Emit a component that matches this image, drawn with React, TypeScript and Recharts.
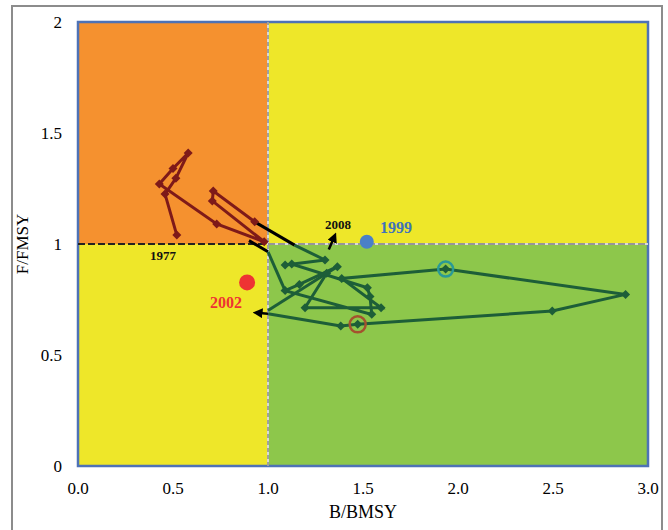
import {
  ComposedChart,
  Scatter,
  XAxis,
  YAxis,
  ReferenceArea,
  ReferenceLine,
  ReferenceDot,
} from "recharts";

type Pt = { x: number; y: number };

const xTicks = [0, 0.5, 1, 1.5, 2, 2.5, 3];
const yTicks = [0, 0.5, 1, 1.5, 2];

// early trajectory (F above FMSY)
const redPath: Pt[] = [
  { x: 0.52, y: 1.04 },
  { x: 0.458, y: 1.225 },
  { x: 0.515, y: 1.296 },
  { x: 0.58, y: 1.41 },
  { x: 0.5, y: 1.34 },
  { x: 0.428, y: 1.27 },
  { x: 0.73, y: 1.09 },
  { x: 0.98, y: 1.01 },
  { x: 0.707, y: 1.194 },
  { x: 0.712, y: 1.239 },
  { x: 0.93, y: 1.1 },
];

// later trajectory (green quadrant)
const greenPath: Pt[] = [
  { x: 1.3, y: 0.928 },
  { x: 1.09, y: 0.905 },
  { x: 1.125, y: 0.91 },
  { x: 1.523, y: 0.803 },
  { x: 1.537, y: 0.763 },
  { x: 1.546, y: 0.683 },
  { x: 1.09, y: 0.79 },
  { x: 1.165, y: 0.818 },
  { x: 1.365, y: 0.898 },
  { x: 1.309, y: 0.868 },
  { x: 1.195, y: 0.713 },
  { x: 1.595, y: 0.713 },
  { x: 1.388, y: 0.845 },
  { x: 1.935, y: 0.887 },
  { x: 2.882, y: 0.773 },
  { x: 2.496, y: 0.698 },
  { x: 1.472, y: 0.638 },
  { x: 1.383, y: 0.631 },
];

// connecting pieces
const blackLinkA: Pt[] = [
  { x: 0.93, y: 1.1 },
  { x: 1.14, y: 0.995 },
];
const greenLinkA: Pt[] = [
  { x: 1.14, y: 0.995 },
  { x: 1.3, y: 0.928 },
];
const blackLinkB: Pt[] = [
  { x: 0.9, y: 1.015 },
  { x: 1.0, y: 0.965 },
];
const greenLinkB: Pt[] = [
  { x: 1.0, y: 0.965 },
  { x: 1.09, y: 0.79 },
];
const greenLinkC: Pt[] = [
  { x: 1.0, y: 0.7 },
  { x: 1.309, y: 0.868 },
];
const greenEnd: Pt[] = [
  { x: 1.383, y: 0.631 },
  { x: 1.0, y: 0.686 },
];
const arrowEnd: Pt[] = [
  { x: 1.0, y: 0.686 },
  { x: 0.94, y: 0.69 },
];
const arrow2008: Pt[] = [
  { x: 1.32, y: 0.975 },
  { x: 1.35, y: 1.035 },
];

const point1999 = { x: 1.52, y: 1.01 };
const point2002 = { x: 0.89, y: 0.827 };
const ringTeal = { x: 1.935, y: 0.887 };
const ringBrown = { x: 1.472, y: 0.638 };

const yearLabels = [
  { x: 0.447, y: 0.95, text: "1977", color: "#111", size: 13 },
  { x: 1.368, y: 1.09, text: "2008", color: "#111", size: 13 },
  { x: 1.674, y: 1.077, text: "1999", color: "#3F72BA", size: 16 },
  { x: 0.779, y: 0.739, text: "2002", color: "#EE3333", size: 16 },
];

const serif = "'Liberation Serif', 'Times New Roman', serif";

const diamond = (color: string) => (props: any) => {
  const { cx, cy } = props;
  const h = 4.5;
  return (
    <polygon
      points={`${cx},${cy - h} ${cx + h},${cy} ${cx},${cy + h} ${cx - h},${cy}`}
      fill={color}
    />
  );
};

const noMark = () => <g />;

export default function App() {
  return (
    <div
      style={{
        position: "fixed",
        left: 0,
        top: 0,
        width: 668,
        height: 530,
        background: "#fff",
        overflow: "hidden",
      }}
    >
      <div
        style={{
          position: "absolute",
          left: 11,
          top: 5,
          width: 648,
          height: 530,
          border: "2px solid #8c8c8c",
          borderBottom: "none",
        }}
      />
      <div style={{ position: "absolute", left: 0, top: 0 }}>
        <ComposedChart
          width={668}
          height={530}
          margin={{ top: 22, right: 20, bottom: 0, left: 0 }}
        >
          <defs>
            <marker
              id="arrowHead"
              viewBox="0 0 10 10"
              refX="6"
              refY="5"
              markerWidth="4"
              markerHeight="4"
              orient="auto"
            >
              <path d="M0,0 L10,5 L0,10 z" fill="#000" />
            </marker>
          </defs>
          <XAxis
            type="number"
            dataKey="x"
            domain={[0, 3]}
            ticks={xTicks}
            tickFormatter={(v: number) => v.toFixed(1)}
            axisLine={false}
            tickLine={false}
            tickSize={0}
            tickMargin={16}
            height={64}
            tick={{ fill: "#000", fontSize: 17, fontFamily: serif }}
            allowDataOverflow
            label={{
              content: () => (
                <text
                  x={363}
                  y={518}
                  textAnchor="middle"
                  fontSize={18}
                  fontFamily={serif}
                  fill="#000"
                >
                  B/BMSY
                </text>
              ),
            }}
          />
          <YAxis
            type="number"
            dataKey="y"
            domain={[0, 2]}
            ticks={yTicks}
            axisLine={false}
            tickLine={false}
            tickSize={0}
            tickMargin={16}
            width={78}
            tick={{ fill: "#000", fontSize: 17, fontFamily: serif }}
            allowDataOverflow
            label={{
              content: () => (
                <text
                  x={28}
                  y={244}
                  transform="rotate(-90 28 244)"
                  textAnchor="middle"
                  fontSize={17}
                  fontFamily={serif}
                  fill="#000"
                >
                  F/FMSY
                </text>
              ),
            }}
          />
          <ReferenceArea x1={0} x2={1} y1={1} y2={2} fill="#F5912F" fillOpacity={1} stroke="none" />
          <ReferenceArea x1={1} x2={3} y1={1} y2={2} fill="#EEE729" fillOpacity={1} stroke="none" />
          <ReferenceArea x1={0} x2={1} y1={0} y2={1} fill="#EEE729" fillOpacity={1} stroke="none" />
          <ReferenceArea x1={1} x2={3} y1={0} y2={1} fill="#8DC74B" fillOpacity={1} stroke="none" />
          <ReferenceArea
            x1={0}
            x2={3}
            y1={0}
            y2={2}
            fill="none"
            stroke="#4E72B6"
            strokeWidth={2.5}
          />
          <ReferenceLine x={1} stroke="#d9d9d9" strokeWidth={2} />
          <ReferenceLine x={1} stroke="#666" strokeWidth={1} strokeDasharray="4 3" />
          <ReferenceLine
            segment={[
              { x: 0, y: 1 },
              { x: 1, y: 1 },
            ]}
            stroke="#222"
            strokeWidth={2}
            strokeDasharray="7 3"
          />
          <ReferenceLine
            segment={[
              { x: 1, y: 1 },
              { x: 3, y: 1 },
            ]}
            stroke="#d9d9d9"
            strokeWidth={2}
          />
          <ReferenceLine
            segment={[
              { x: 1, y: 1 },
              { x: 3, y: 1 },
            ]}
            stroke="#555"
            strokeWidth={1.2}
            strokeDasharray="7 3"
          />

          <Scatter
            data={blackLinkA}
            fill="#000"
            line={{ stroke: "#000", strokeWidth: 3 }}
            shape={noMark}
            isAnimationActive={false}
          />
          <Scatter
            data={blackLinkB}
            fill="#000"
            line={{ stroke: "#000", strokeWidth: 3 }}
            shape={noMark}
            isAnimationActive={false}
          />
          <Scatter
            data={greenLinkA}
            fill="#1D5E38"
            line={{ stroke: "#1D5E38", strokeWidth: 3 }}
            shape={noMark}
            isAnimationActive={false}
          />
          <Scatter
            data={greenLinkB}
            fill="#1D5E38"
            line={{ stroke: "#1D5E38", strokeWidth: 3 }}
            shape={noMark}
            isAnimationActive={false}
          />
          <Scatter
            data={greenLinkC}
            fill="#1D5E38"
            line={{ stroke: "#1D5E38", strokeWidth: 3 }}
            shape={noMark}
            isAnimationActive={false}
          />
          <Scatter
            data={greenEnd}
            fill="#1D5E38"
            line={{ stroke: "#1D5E38", strokeWidth: 3 }}
            shape={noMark}
            isAnimationActive={false}
          />
          <Scatter
            data={redPath}
            fill="#7E1A19"
            line={{ stroke: "#7E1A19", strokeWidth: 3 }}
            shape={diamond("#7E1A19")}
            isAnimationActive={false}
          />
          <Scatter
            data={greenPath}
            fill="#1D5E38"
            line={{ stroke: "#1D5E38", strokeWidth: 3 }}
            shape={diamond("#1D5E38")}
            isAnimationActive={false}
          />
          <Scatter
            data={arrowEnd}
            fill="#000"
            line={{ stroke: "#000", strokeWidth: 2.5, markerEnd: "url(#arrowHead)" }}
            shape={noMark}
            isAnimationActive={false}
          />
          <Scatter
            data={arrow2008}
            fill="#000"
            line={{ stroke: "#000", strokeWidth: 2.5, markerEnd: "url(#arrowHead)" }}
            shape={noMark}
            isAnimationActive={false}
          />

          <ReferenceDot x={ringTeal.x} y={ringTeal.y} r={7.5} fill="none" stroke="#2A9A96" strokeWidth={2.5} />
          <ReferenceDot x={ringBrown.x} y={ringBrown.y} r={8} fill="none" stroke="#A4522E" strokeWidth={2.5} />
          <ReferenceDot x={point1999.x} y={point1999.y} r={7} fill="#4A80C8" stroke="none" />
          <ReferenceDot x={point2002.x} y={point2002.y} r={8} fill="#EE3333" stroke="none" />

          {yearLabels.map((l) => (
            <ReferenceDot
              key={l.text}
              x={l.x}
              y={l.y}
              r={0}
              fill="none"
              stroke="none"
              label={{
                value: l.text,
                position: "center",
                fill: l.color,
                fontSize: l.size,
                fontWeight: "bold",
                fontFamily: serif,
              }}
            />
          ))}
        </ComposedChart>
      </div>
    </div>
  );
}
